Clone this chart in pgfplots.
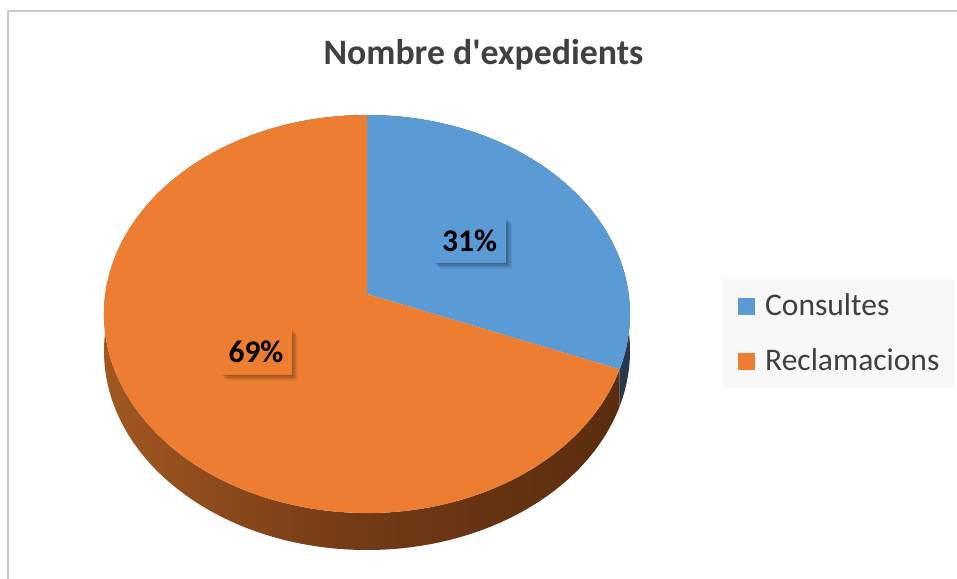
\documentclass[border=0pt]{standalone}
\usepackage{pgfplots}
\pgfplotsset{compat=1.18}
\usepackage{pgfplotstable}
\usepackage{fontspec}
\setmainfont{Carlito}
\usetikzlibrary{shadows}

\definecolor{consblue}{HTML}{5B9BD5}
\definecolor{consside}{HTML}{26384C}
\definecolor{reclorange}{HTML}{ED7D31}
\definecolor{sideleft}{HTML}{A85B22}
\definecolor{sidemid}{HTML}{743B17}
\definecolor{sideright}{HTML}{5A2D0E}
\definecolor{textgray}{HTML}{404040}
\definecolor{legbg}{HTML}{F8F8F8}
\definecolor{bordergray}{HTML}{C8C8C8}

\tikzset{
  softshadow/.style={
    drop shadow={shadow xshift=1.5bp, shadow yshift=-1.5bp, fill=black, opacity=0.10},
    drop shadow={shadow xshift=3bp, shadow yshift=-3bp, fill=black, opacity=0.10},
    drop shadow={shadow xshift=4.5bp, shadow yshift=-4.5bp, fill=black, opacity=0.09},
    drop shadow={shadow xshift=6bp, shadow yshift=-6bp, fill=black, opacity=0.06}},
  datalabel/.style={minimum width=73bp, minimum height=45bp, inner sep=0pt,
    softshadow, font=\fontsize{31.5bp}{36bp}\selectfont\bfseries},
}

\pgfplotstableread{
label value
Consultes 31
Reclamacions 69
}\piedata

\pgfplotstablegetelem{0}{value}\of\piedata
\let\vCons\pgfplotsretval
\pgfplotstablegetelem{1}{value}\of\piedata
\let\vRecl\pgfplotsretval

% pie angle -> parameter of the projected ellipse (perspective tilt)
\newcommand\pieparam[2]{%
  \pgfmathsetmacro\pieden{1+0.1005*sin(#1)}%
  \pgfmathsetmacro\piex{261.7*cos(#1)/\pieden}%
  \pgfmathsetmacro\piey{197*sin(#1)/\pieden}%
  \pgfmathsetmacro\piet{atan2((\piey+20)/199,\piex/263)}%
  \pgfmathsetmacro#2{\piet+360*round((#1-\piet)/360)}%
}
\pgfmathsetmacro\total{\vCons+\vRecl}
\pgfmathsetmacro\thA{90}
\pgfmathsetmacro\thB{90-360*(\vCons/\total)}
\pgfmathsetmacro\thC{\thB-360*(\vRecl/\total)}
\pieparam{\thA}{\tA}
\pieparam{\thB}{\tB}
\pieparam{\thC}{\tC}

\begin{document}
\begin{tikzpicture}
\begin{axis}[
  width=957bp, height=579bp, scale only axis,
  xmin=0, xmax=957, ymin=0, ymax=579,
  hide axis, clip=false,
  legend image code/.code={\fill[#1,draw=none] (0bp,-8.5bp) rectangle (17bp,8.5bp);},
  legend cell align=left,
  legend style={at={(723/957,300/579)}, anchor=north west,
    draw=none, fill=legbg, inner xsep=15bp, inner ysep=14.5bp,
    row sep=30bp,
    font=\fontsize{31.5bp}{38bp}\selectfont,
    nodes={inner sep=0pt, text height=22bp, text depth=3bp, text=textgray},
    /tikz/every odd column/.append style={column sep=10bp}},
]
\addlegendimage{fill=consblue, draw=none}
\addlegendentry{Consultes}
\addlegendimage{fill=reclorange, draw=none}
\addlegendentry{Reclamacions}

% chart border
\draw[bordergray, line width=2bp] (axis cs:7.5,0) |- (axis cs:957,568.3);

% title
\node[anchor=base, inner sep=0pt, text=textgray,
  font=\fontsize{35.8bp}{40bp}\selectfont\bfseries]
  at (axis cs:483.5,514) {Nombre d\textquotesingle expedients};

% sides
\shade[left color=sideleft, right color=sideright, middle color=sidemid]
  (axis cs:{367+263*cos(\tB)},{265+199*sin(\tB)})
  arc[start angle=\tB, end angle=\tC, x radius=263bp, y radius=199bp]
  -- ++(0bp,-37bp)
  arc[start angle=\tC, end angle=\tB, x radius=263bp, y radius=199bp] -- cycle;
\fill[consside]
  (axis cs:{367+263*cos(\tA)},{265+199*sin(\tA)})
  arc[start angle=\tA, end angle=\tB, x radius=263bp, y radius=199bp]
  -- ++(0bp,-37bp)
  arc[start angle=\tB, end angle=\tA, x radius=263bp, y radius=199bp] -- cycle;

% top faces
\fill[consblue] (axis cs:367,285)
  -- (axis cs:{367+263*cos(\tA)},{265+199*sin(\tA)})
  arc[start angle=\tA, end angle=\tB, x radius=263bp, y radius=199bp] -- cycle;
\fill[reclorange] (axis cs:367,285)
  -- (axis cs:{367+263*cos(\tB)},{265+199*sin(\tB)})
  arc[start angle=\tB, end angle=\tC, x radius=263bp, y radius=199bp] -- cycle;

% data labels
\node[datalabel, fill=consblue] at (axis cs:469.5,338.5) {31\%};
\node[datalabel, fill=reclorange, minimum width=71bp, minimum height=46bp]
  at (axis cs:256,227) {69\%};
\end{axis}
\pgfresetboundingbox
\path (0,0) rectangle (957bp,579bp);
\end{tikzpicture}
\end{document}
